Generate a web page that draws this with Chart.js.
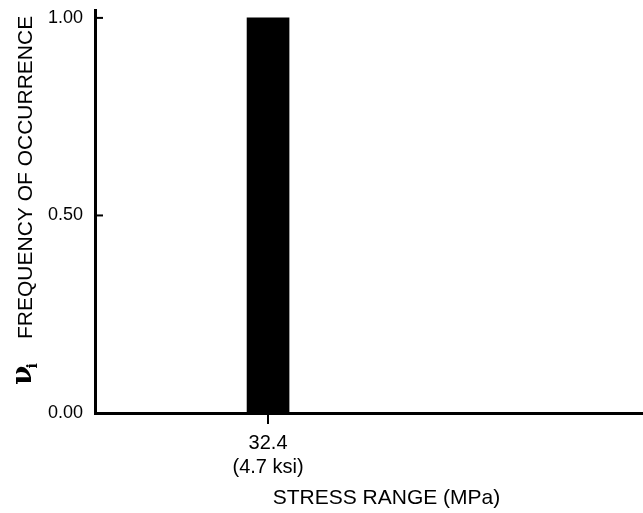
<!DOCTYPE html>
<html>
<head>
<meta charset="utf-8">
<script src="https://cdn.jsdelivr.net/npm/chart.js@4"></script>
<style>
  body { margin: 0; background: #fff; }
  #wrap { width: 643px; height: 513px; }
</style>
</head>
<body>
<div id="wrap"><canvas id="stressChart"></canvas></div>
<script>
// stress range histogram data
const stressMPa = [32.4];
const stressKsi = [4.7];
const frequency = [1.00];
const yTicks = [0, 0.5, 1.0];

const FONT = 'Liberation Sans, Arial, sans-serif';

// inward tick marks on the y axis + the nu_i symbol in front of the y title
const extrasPlugin = {
    id: 'extras',
    afterDraw(chart) {
        const ctx = chart.ctx;
        const y = chart.scales.y;
        const left = chart.chartArea.left;
        ctx.save();
        ctx.strokeStyle = '#000';
        ctx.lineWidth = 2;
        yTicks.forEach(v => {
            const py = y.getPixelForValue(v);
            ctx.beginPath();
            ctx.moveTo(left, py);
            ctx.lineTo(left + 8, py);
            ctx.stroke();
        });
        ctx.restore();

        ctx.save();
        ctx.translate(31, 385);
        ctx.rotate(-Math.PI / 2);
        ctx.fillStyle = '#000';
        ctx.textBaseline = 'alphabetic';
        ctx.textAlign = 'left';
        ctx.font = 'bold 28px "DejaVu Serif", serif';
        ctx.fillText('\u03BD', 0, 0);
        const w = ctx.measureText('\u03BD').width;
        ctx.font = 'bold 14px "DejaVu Serif", serif';
        ctx.fillText('i', w - 3, 6);
        ctx.restore();
    }
};

function drawChart() {
    const ctx = document.getElementById('stressChart').getContext('2d');

    new Chart(ctx, {
        type: 'bar',
        data: {
            datasets: [{
                label: 'Frequency',
                data: stressMPa.map((s, i) => ({ x: s, y: frequency[i] })),
                backgroundColor: '#000',
                borderWidth: 0,
                barThickness: 42,
            }],
        },
        options: {
            responsive: true,
            maintainAspectRatio: false,
            animation: false,
            layout: { padding: { left: 0, right: 0, top: 10, bottom: 0 } },
            plugins: {
                legend: { display: false },
                tooltip: { enabled: false },
            },
            scales: {
                x: {
                    type: 'linear',
                    min: 0,
                    max: 102.6,
                    offset: false,
                    afterBuildTicks: scale => {
                        scale.ticks = stressMPa.map(v => ({ value: v }));
                    },
                    afterFit: scale => { scale.height = 100; },
                    ticks: {
                        autoSkip: false,
                        maxRotation: 0,
                        padding: 7,
                        color: '#000',
                        font: { family: FONT, size: 20, lineHeight: 1.2 },
                        callback: (value, index) => [value.toFixed(1), '(' + stressKsi[index] + ' ksi)'],
                    },
                    grid: {
                        offset: false,
                        drawOnChartArea: false,
                        tickLength: 11,
                        color: '#000',
                        lineWidth: 2,
                    },
                    border: { display: true, color: '#000', width: 3 },
                    title: {
                        display: true,
                        text: '      STRESS RANGE (MPa)',
                        color: '#000',
                        font: { family: FONT, size: 21, lineHeight: 1.2 },
                        padding: { top: 0, bottom: 2 },
                    },
                },
                y: {
                    min: 0,
                    max: 1.02,
                    afterBuildTicks: scale => {
                        scale.ticks = yTicks.map(v => ({ value: v }));
                    },
                    afterFit: scale => {
                        scale.width = 95;
                        scale.paddingTop = 0;
                    },
                    ticks: {
                        padding: 12,
                        color: '#000',
                        font: { family: FONT, size: 18 },
                        callback: v => v.toFixed(2),
                    },
                    grid: { drawOnChartArea: false, drawTicks: false },
                    border: { display: true, color: '#000', width: 3 },
                    title: {
                        display: true,
                        align: 'end',
                        text: 'FREQUENCY OF OCCURRENCE ',
                        color: '#000',
                        font: { family: FONT, size: 21, lineHeight: 1.2 },
                        padding: { top: 14, bottom: 0 },
                    },
                },
            },
        },
        plugins: [extrasPlugin],
    });
}

drawChart();
</script>
</body>
</html>
